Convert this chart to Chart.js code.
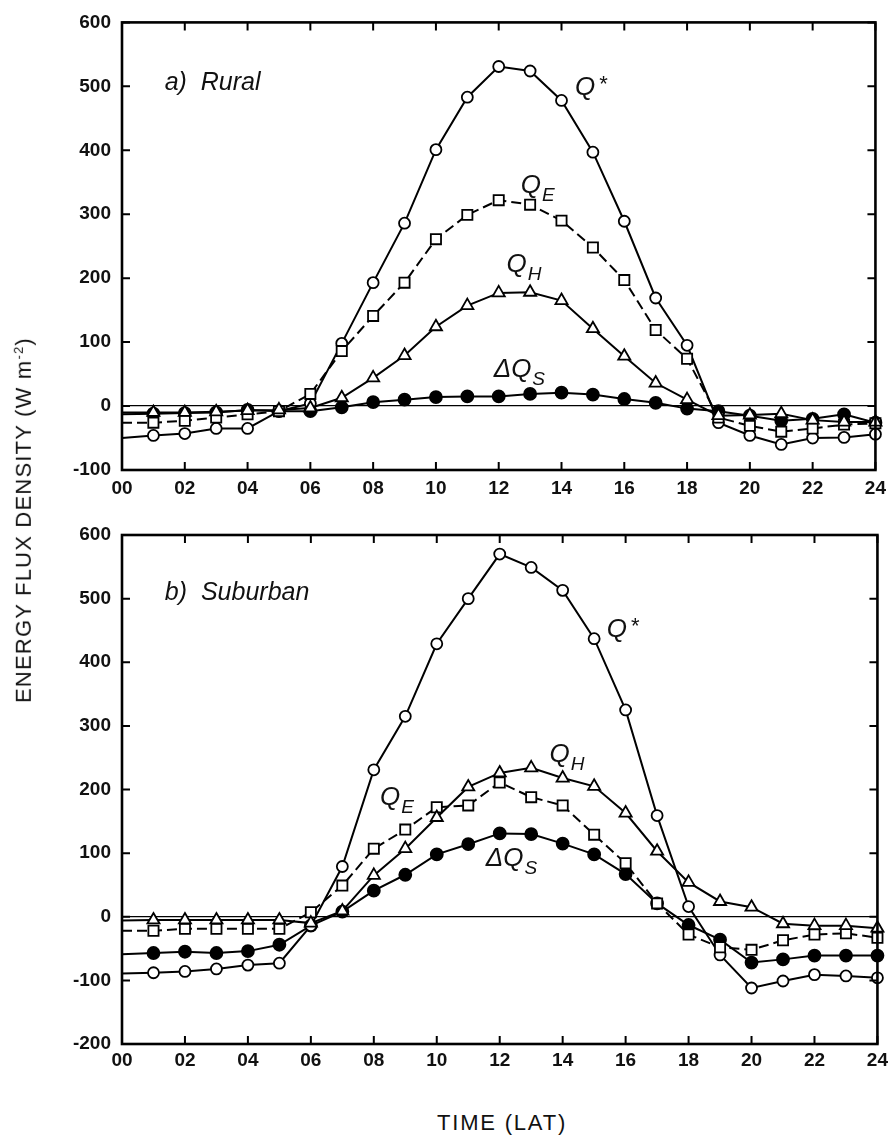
<!DOCTYPE html>
<html>
<head>
<meta charset="utf-8">
<script src="https://cdn.jsdelivr.net/npm/chart.js@4.4.1/dist/chart.umd.min.js"></script>
<style>
  body { margin: 0; background: #fff; width: 893px; height: 1135px; position: relative; overflow: hidden; font-family: "Liberation Sans", Arial, sans-serif; color: #111; }
  canvas { position: absolute; left: 0; }
  #rural { top: 0; }
  #suburban { top: 500px; }
  #ytitle { position: absolute; left: 24px; top: 520px; transform: translate(-50%, -50%) rotate(-90deg); font-size: 22px; letter-spacing: 1.2px; white-space: nowrap; }
  #ytitle sup { font-size: 13px; }
  #xtitle { position: absolute; left: 502px; top: 1123px; transform: translate(-50%, -50%); font-size: 22px; letter-spacing: 1.8px; white-space: nowrap; }
</style>
</head>
<body>
<canvas id="rural" width="893" height="500"></canvas>
<canvas id="suburban" width="893" height="574"></canvas>
<div id="ytitle">ENERGY FLUX DENSITY (W m<sup>-2</sup>)</div>
<div id="xtitle">TIME (LAT)</div>
<script>
// heures (LAT)
var hours = [0, 1, 2, 3, 4, 5, 6, 7, 8, 9, 10, 11, 12, 13, 14, 15, 16, 17, 18, 19, 20, 21, 22, 23, 24];

// a) Rural
var qStarRural = [-50, -46, -43, -35, -35, -8, 4, 98, 193, 286, 401, 483, 531, 524, 478, 397, 289, 169, 95, -26, -46, -60, -50, -49, -44];
var qERural = [-26, -26, -23, -18, -13, -8, 19, 86, 141, 193, 261, 299, 322, 315, 290, 248, 197, 119, 74, -18, -31, -40, -35, -29, -27];
var qHRural = [-10, -10, -10, -9, -7, -6, -3, 13, 44, 79, 124, 157, 177, 178, 165, 121, 78, 36, 10, -15, -14, -12, -22, -25, -25];
var dQsRural = [-13, -12, -11, -10, -6, -8, -8, -2, 6, 10, 14, 15, 15, 19, 21, 18, 11, 5, -4, -8, -15, -23, -20, -13, -26];

// b) Suburban
var qStarSuburban = [-89, -88, -86, -82, -76, -73, -14, 79, 231, 315, 429, 500, 570, 549, 513, 437, 325, 159, 16, -60, -112, -101, -91, -93, -96];
var qESuburban = [-22, -22, -19, -19, -19, -19, 7, 49, 107, 137, 172, 175, 211, 188, 175, 129, 84, 21, -28, -48, -52, -37, -28, -26, -33];
var qHSuburban = [-6, -5, -5, -5, -5, -5, -10, 9, 65, 107, 156, 204, 226, 234, 218, 205, 163, 103, 54, 24, 15, -11, -14, -14, -18];
var dQsSuburban = [-59, -57, -55, -57, -54, -44, -14, 8, 41, 66, 98, 114, 131, 130, 115, 98, 67, 21, -13, -36, -72, -67, -61, -61, -61];

function toXY(values) {
  return values.map(function (v, i) { return { x: hours[i], y: v }; });
}

// pas de marqueur à 00 h
function radius(r) {
  return function (ctx) { return ctx.dataIndex === 0 ? 0 : r; };
}

function series(values, style) {
  var base = {
    data: toXY(values),
    borderColor: "#000",
    borderWidth: 2,
    pointBorderColor: "#000",
    pointBorderWidth: 1.8,
    pointBackgroundColor: "#fff",
    tension: 0,
    clip: false,
  };
  return Object.assign(base, style);
}

function buildDatasets(qStar, qE, qH, dQs) {
  return [
    series(qH, { pointStyle: "triangle", pointRadius: radius(7) }),
    series(qE, { pointStyle: "rect", pointRadius: radius(7.2), borderDash: [10, 5] }),
    series(qStar, { pointStyle: "circle", pointRadius: radius(5.5) }),
    series(dQs, { pointStyle: "circle", pointRadius: radius(6), pointBackgroundColor: "#000" }),
  ];
}

// cadre, graduations intérieures et annotations
var framePlugin = {
  id: "frame",
  afterDraw: function (chart, args, opts) {
    var ctx = chart.ctx;
    var a = chart.chartArea;
    var x = chart.scales.x;
    var y = chart.scales.y;
    ctx.save();
    ctx.strokeStyle = "#000";
    ctx.lineWidth = 2;
    ctx.beginPath();
    x.ticks.forEach(function (t) {
      var px = x.getPixelForValue(t.value);
      ctx.moveTo(px, a.bottom); ctx.lineTo(px, a.bottom - 8);
      ctx.moveTo(px, a.top); ctx.lineTo(px, a.top + 8);
    });
    y.ticks.forEach(function (t) {
      var py = y.getPixelForValue(t.value);
      ctx.moveTo(a.left, py); ctx.lineTo(a.left + 8, py);
      ctx.moveTo(a.right, py); ctx.lineTo(a.right - 8, py);
    });
    ctx.stroke();
    ctx.lineWidth = 2.6;
    ctx.strokeRect(a.left, a.top, a.right - a.left, a.bottom - a.top);

    ctx.fillStyle = "#111";
    ctx.textBaseline = "alphabetic";
    ctx.textAlign = "left";
    ctx.font = "italic 25px 'Liberation Sans', Arial, sans-serif";
    ctx.fillText(opts.title, x.getPixelForValue(opts.titleAt[0]), y.getPixelForValue(opts.titleAt[1]));

    opts.symbols.forEach(function (s) {
      var px = x.getPixelForValue(s.at[0]);
      var py = y.getPixelForValue(s.at[1]);
      ctx.font = "italic 26px 'Liberation Sans', Arial, sans-serif";
      var main = s.delta ? "\u0394Q" : "Q";
      ctx.fillText(main, px, py);
      var w = ctx.measureText(main).width;
      if (s.sub) {
        ctx.font = "italic 19px 'Liberation Sans', Arial, sans-serif";
        ctx.fillText(s.sub, px + w + 1, py + 8);
      }
      if (s.sup) {
        ctx.font = "22px 'Liberation Sans', Arial, sans-serif";
        ctx.fillText(s.sup, px + w + 4, py - 4);
      }
    });
    ctx.restore();
  },
};

function makeOptions(yMin, padTop, labelPad, title, titleAt, symbols) {
  var tickFont = { family: "'Liberation Sans', Arial, sans-serif", size: 19, weight: "bold" };
  return {
    responsive: false,
    animation: false,
    devicePixelRatio: 1,
    layout: { padding: { top: padTop, right: 11, left: 0, bottom: 0 } },
    scales: {
      x: {
        type: "linear",
        min: 0,
        max: 24,
        grid: { display: false, drawTicks: false },
        border: { display: false },
        ticks: {
          stepSize: 2,
          padding: labelPad,
          color: "#111",
          font: tickFont,
          maxRotation: 0,
          callback: function (v) { return String(v).padStart(2, "0"); },
        },
        afterFit: function (s) { s.height = 30; },
      },
      y: {
        min: yMin,
        max: 600,
        grid: {
          drawTicks: false,
          lineWidth: 1.3,
          color: function (c) { return c.tick && c.tick.value === 0 ? "#000" : "rgba(0,0,0,0)"; },
        },
        border: { display: false },
        ticks: { stepSize: 100, padding: 11, color: "#111", font: tickFont },
        afterFit: function (s) { s.width = 122; },
      },
    },
    plugins: {
      legend: { display: false },
      tooltip: { enabled: false },
      frame: { title: title, titleAt: titleAt, symbols: symbols },
    },
  };
}

new Chart(document.getElementById("rural"), {
  type: "line",
  data: { datasets: buildDatasets(qStarRural, qERural, qHRural, dQsRural) },
  options: makeOptions(-100, 17, 7, "a)  Rural", [1.36, 494], [
    { at: [14.43, 486], sup: "*" },
    { at: [12.7, 333], sub: "E" },
    { at: [12.25, 209], sub: "H" },
    { at: [11.84, 46], sub: "S", delta: true },
  ]),
  plugins: [framePlugin],
});

new Chart(document.getElementById("suburban"), {
  type: "line",
  data: { datasets: buildDatasets(qStarSuburban, qESuburban, qHSuburban, dQsSuburban) },
  options: makeOptions(-200, 35, 5, "b)  Suburban", [1.36, 498], [
    { at: [15.4, 439], sup: "*" },
    { at: [8.2, 176], sub: "E" },
    { at: [13.58, 243], sub: "H" },
    { at: [11.56, 80], sub: "S", delta: true },
  ]),
  plugins: [framePlugin],
});
</script>
</body>
</html>
